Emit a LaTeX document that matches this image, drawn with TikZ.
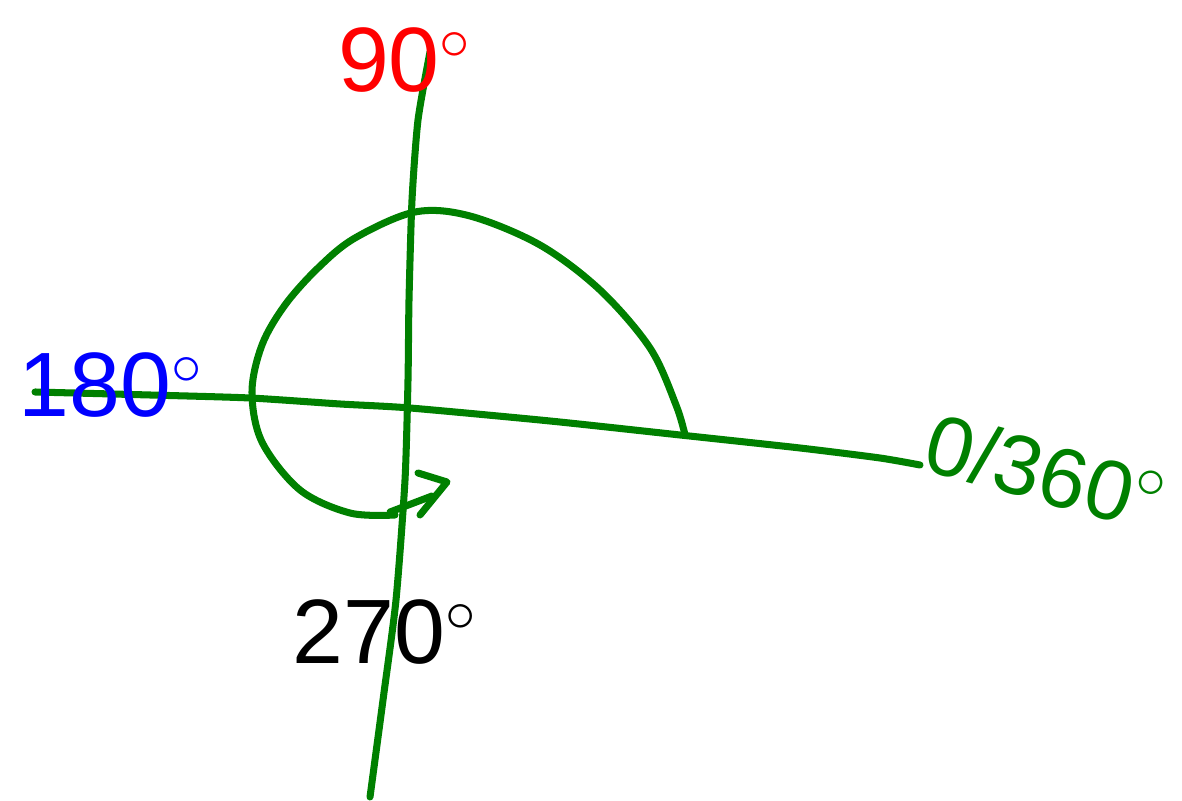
\documentclass[tikz,border=0pt]{standalone}
\usepackage{fontspec}
\setmainfont{Liberation Sans}
\definecolor{penGreen}{RGB}{0,128,0}
\definecolor{penRed}{RGB}{255,0,0}
\definecolor{penBlue}{RGB}{0,0,255}
\tikzset{
  ink/.style={draw=penGreen, line width=2pt, line cap=round, line join=round},
  lbl/.style={font=\fontsize{26}{30}\selectfont, inner sep=0pt}
}
\begin{document}
\begin{tikzpicture}[x=0.01cm, y=-0.01cm]
        \useasboundingbox (0,0) rectangle (1182,801);

        % ==========================================
        % Ejes
        % ==========================================
        % Eje vertical
        \draw[ink] plot[smooth, tension=0.4] coordinates {(430,52) (418,120) (412,200) (409,300) (408,380) (405,480) (396,600) (383,700) (370,797)};
        % Eje horizontal
        \draw[ink] plot[smooth, tension=0.4] coordinates {(35,392) (150,395) (250,398) (340,404) (410,408) (550,421) (680,435) (800,448) (880,458) (920,465)};

        % ==========================================
        % Arco de 0 a 270
        % ==========================================
        \coordinate (arcStart) at (685,435);
        \coordinate (arcEnd) at (395,515);
        \draw[ink] plot[smooth, tension=0.55] coordinates {(685,435) (676,405) (650,348) (600,290) (540,245) (470,216) (415,212) (355,238) (318,268) (285,305) (262,345) (252,392) (262,442) (300,490) (350,513) (395,515)};
        % Punta de flecha
        \draw[ink] (390,512) -- (432,496);
        \draw[ink] (418,473) -- (447,482) -- (420,515);

        % ==========================================
        % Etiquetas
        % ==========================================
        \node[lbl, text=penRed] (lblNinety) at (405,60) {90$^\circ$};
        \node[lbl, text=penBlue, anchor=west] (lblOneEighty) at (18,385) {180$^\circ$};
        \node[lbl, text=penGreen, rotate=-15, font=\fontsize{24}{28}\selectfont] (lblZero) at (1046,472) {0/360$^\circ$};
        \node[lbl, text=black] (lblTwoSeventy) at (385,632) {270$^\circ$};

    \end{tikzpicture}
\end{document}
